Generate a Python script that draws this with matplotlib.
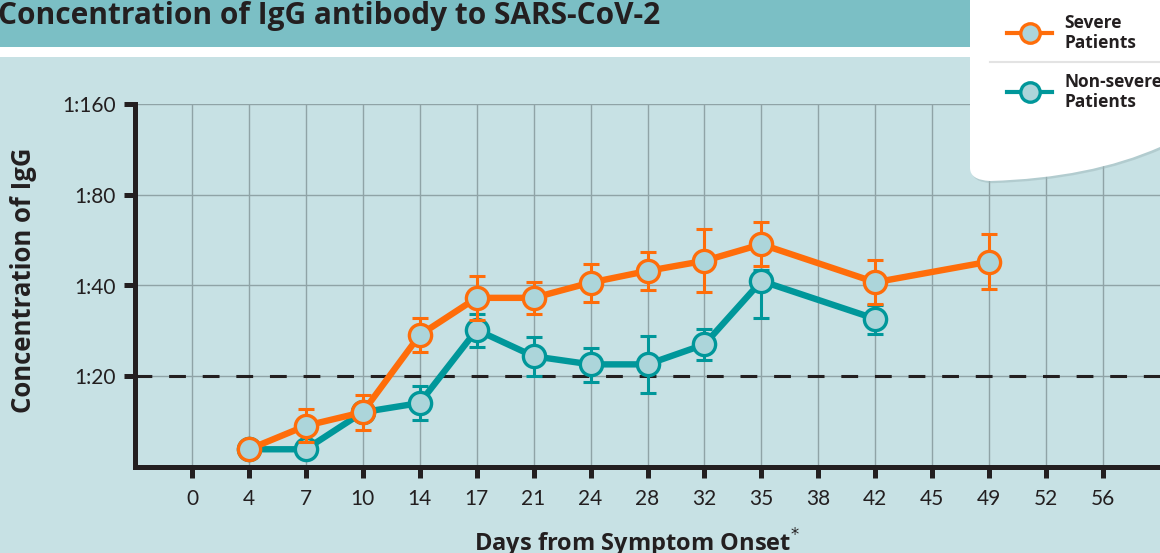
import numpy as np
import matplotlib
matplotlib.use("Agg")
import matplotlib.pyplot as plt
from matplotlib.patches import Rectangle, PathPatch
from matplotlib.path import Path
from matplotlib.lines import Line2D

# ---------------- data ----------------
days = ["0", "4", "7", "10", "14", "17", "21", "24", "28", "32", "35", "38", "42", "45", "49", "52", "56"]

severe_days = ["4", "7", "10", "14", "17", "21", "24", "28", "32", "35", "42", "49"]
severe_val = [11.45, 13.7, 15.2, 27.4, 36.4, 36.4, 40.9, 44.7, 48.3, 54.8, 41.0, 48.0]
severe_hi = [11.45, 15.6, 17.3, 31.2, 43.0, 41.1, 47.1, 51.5, 61.4, 64.8, 48.6, 59.3]
severe_lo = [11.45, 12.1, 13.3, 24.1, 30.7, 32.2, 35.3, 38.6, 38.0, 46.4, 34.7, 38.9]

nonsev_days = ["4", "7", "10", "14", "17", "21", "24", "28", "32", "35", "42"]
nonsev_val = [11.45, 11.45, 15.2, 16.3, 28.5, 23.3, 21.9, 21.9, 25.5, 41.4, 31.0]
nonsev_hi = [11.45, 11.45, 15.2, 18.5, 32.2, 27.0, 24.9, 27.3, 28.7, 45.0, 34.5]
nonsev_lo = [11.45, 11.45, 15.2, 14.3, 25.0, 20.0, 19.2, 17.6, 22.6, 31.1, 27.6]

ytick_vals = [20, 40, 80, 160]
ytick_labels = ["1:20", "1:40", "1:80", "1:160"]
threshold = 20

# ---------------- style ----------------
W, H = 1160, 553
BG = "#c7e1e4"
BAR = "#7bbfc5"
ORANGE = "#ff6d0a"
TEAL = "#00979a"
FACE = "#acd5da"
GRID = "#8fa3a6"
INK = "#231f20"
BOLD_FAM = ["Open Sans", "DejaVu Sans"]

plt.rcParams["font.family"] = ["Lato", "DejaVu Sans"]

fig = plt.figure(figsize=(W / 100, H / 100), dpi=100)
fig.patch.set_facecolor("white")

def fx(px):
    return px / W

def fy(py):
    return 1 - py / H

# background panels
fig.patches.append(Rectangle((0, 0), 1, fy(57), transform=fig.transFigure,
                             facecolor=BG, edgecolor="none", zorder=-10))
fig.patches.append(Rectangle((0, fy(47)), 1, 1 - fy(47), transform=fig.transFigure,
                             facecolor=BAR, edgecolor="none", zorder=-10))
fig.text(fx(-2), fy(16), "Concentration of IgG antibody to SARS-CoV-2",
         fontsize=21.5, fontweight="bold", family=BOLD_FAM, color=INK,
         ha="left", va="center")

# axes
ax = fig.add_axes([fx(135), fy(467), fx(1160) - fx(135), fy(104) - fy(467)])
ax.set_facecolor(BG)
ax.set_yscale("log", base=2)
ax.set_ylim(10, 160)
ax.set_xlim(-1, 17)

xpos = {d: i for i, d in enumerate(days)}
ax.set_xticks(range(len(days)))
ax.set_xticklabels(days)
ax.set_yticks(ytick_vals)
ax.set_yticklabels(ytick_labels)
ax.yaxis.set_minor_locator(matplotlib.ticker.NullLocator())

ax.grid(True, color=GRID, linewidth=1.0, zorder=0)
ax.set_axisbelow(True)

for s in ["top", "right"]:
    ax.spines[s].set_visible(False)
for s in ["left", "bottom"]:
    ax.spines[s].set_linewidth(3.6)
    ax.spines[s].set_color(INK)
    ax.spines[s].set_capstyle("projecting")
ax.tick_params(axis="both", length=8, width=3.6, color=INK, labelsize=15,
               labelcolor=INK, pad=6)
ax.tick_params(axis="x", pad=8)

ax.axhline(threshold, color=INK, linewidth=2.2, dashes=(5.5, 5.5), zorder=1)

def draw(dlist, vals, hi, lo, color, z):
    x = [xpos[d] for d in dlist]
    v = np.array(vals)
    yerr = np.array([v - np.array(lo), np.array(hi) - v])
    ax.errorbar(x, v, yerr=yerr, fmt="none", ecolor=color, elinewidth=2.2,
                capsize=6, capthick=2.2, zorder=z)
    ax.plot(x, v, color=color, linewidth=4.6, solid_joinstyle="round",
            marker="o", markersize=16, markerfacecolor=FACE,
            markeredgecolor=color, markeredgewidth=2.4, zorder=z + 1)

draw(nonsev_days, nonsev_val, nonsev_hi, nonsev_lo, TEAL, 3)
draw(severe_days, severe_val, severe_hi, severe_lo, ORANGE, 5)

fig.text(fx(24), fy(280), "Concentration of IgG", rotation=90, fontsize=18.5,
         fontweight="bold", family=BOLD_FAM, color=INK, ha="center", va="center")
fig.text(fx(637), fy(543), "Days from Symptom Onset$^{*}$", fontsize=17,
         fontweight="bold", family=BOLD_FAM, color=INK, ha="center", va="center")

# legend box with curved bottom
verts = [(fx(970), fy(-5)), (fx(970), fy(168)),
         (fx(970), fy(180)), (fx(990), fy(181)),
         (fx(1090), fy(178)), (fx(1160), fy(147)),
         (fx(1165), fy(144)), (fx(1165), fy(-5)), (fx(970), fy(-5))]
codes = [Path.MOVETO, Path.LINETO, Path.CURVE3, Path.CURVE3,
         Path.CURVE3, Path.CURVE3, Path.LINETO, Path.LINETO, Path.CLOSEPOLY]
shadow = PathPatch(Path([(x + 0.0015, y - 0.004) for x, y in verts], codes),
                   transform=fig.transFigure, facecolor="#9fb9bc", edgecolor="none",
                   alpha=0.5, zorder=20)
box = PathPatch(Path(verts, codes), transform=fig.transFigure, facecolor="white",
                edgecolor="none", zorder=21)
fig.patches.extend([shadow, box])
fig.add_artist(Line2D([fx(990), fx(1160)], [fy(62), fy(62)], color="#e3e3e3",
                      linewidth=1.5, zorder=22))

for yc, color, label in [(33, ORANGE, "Severe\nPatients"), (92, TEAL, "Non-severe\nPatients")]:
    fig.add_artist(Line2D([fx(1007), fx(1052)], [fy(yc), fy(yc)], color=color,
                          linewidth=3, zorder=23))
    fig.add_artist(Line2D([fx(1030)], [fy(yc)], marker="o", markersize=14,
                          markerfacecolor=FACE, markeredgecolor=color,
                          markeredgewidth=2.4, color=color, zorder=24))
    fig.text(fx(1064), fy(yc), label, fontsize=12.5, fontweight="bold",
             family=BOLD_FAM, color=INK, ha="left", va="center",
             linespacing=1.15, zorder=25)

fig.savefig("out.png", dpi=100, facecolor=fig.get_facecolor())
